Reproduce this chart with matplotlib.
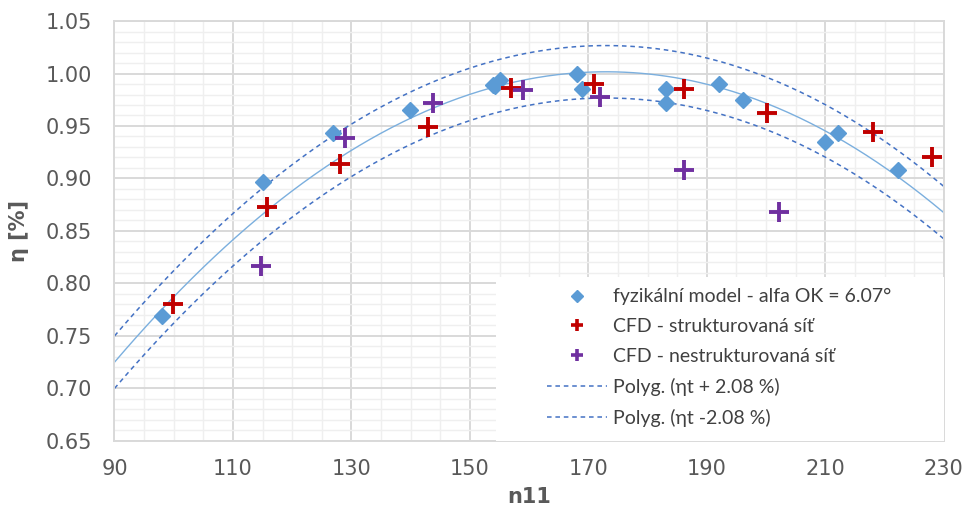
import numpy as np
import matplotlib.pyplot as plt
from matplotlib.lines import Line2D
from matplotlib.patches import Rectangle
from matplotlib.ticker import MultipleLocator, FixedLocator, FormatStrFormatter

plt.rcParams['font.family'] = ['DejaVu Sans']

# fyzikální model (alfa OK = 6.07°)
model_n11 = [98.0, 115.0, 126.9, 139.9, 153.9, 154.2, 155.1, 168.0, 169.0,
             183.1, 183.1, 192.0, 196.1, 210.0, 212.2, 222.3]
model_eta = [0.769, 0.897, 0.943, 0.965, 0.989, 0.988, 0.994, 1.000, 0.985,
             0.985, 0.972, 0.990, 0.975, 0.935, 0.943, 0.908]

# CFD - strukturovaná síť
cfd_s_n11 = [99.9, 115.8, 128.1, 143.0, 157.0, 171.0, 186.1, 200.1, 218.1, 228.0]
cfd_s_eta = [0.780, 0.873, 0.914, 0.949, 0.986, 0.990, 0.985, 0.962, 0.944, 0.920]

# CFD - nestrukturovaná síť
cfd_n_n11 = [114.8, 128.9, 143.8, 159.0, 171.9, 186.1, 202.2]
cfd_n_eta = [0.817, 0.939, 0.972, 0.984, 0.978, 0.908, 0.868]

# ηt trend values
trend_n11 = [90, 110, 130, 150, 170, 190, 210, 230]
trend_eta = [0.724, 0.844, 0.925, 0.979, 1.002, 0.992, 0.943, 0.868]

band = 0.025  # half-width of the tolerance band

labels = ["fyzikální model - alfa OK = 6.07°",
          "CFD - strukturovaná síť",
          "CFD - nestrukturovaná síť",
          "Polyg. (ηt + 2.08 %)",
          "Polyg. (ηt -2.08 %)"]

x_ticks = [90, 110, 130, 150, 170, 190, 210, 230]

coef = np.polyfit(trend_n11, trend_eta, 3)
xs = np.linspace(90, 230, 300)
fit = np.polyval(coef, xs)

fig = plt.figure(figsize=(9.7, 5.14), dpi=100)
ax = fig.add_axes([0.118, 0.1426, 0.855, 0.8164])

dash = (0, (3, 2.5))
ax.plot(xs, fit, color="#7BAFDE", lw=1.0, zorder=2)
ax.plot(xs, fit + band, color="#4472C4", lw=1.1, ls=dash, zorder=2)
ax.plot(xs, fit - band, color="#4472C4", lw=1.1, ls=dash, zorder=2)

ax.plot(model_n11, model_eta, ls="none", marker="D", ms=8, color="#5B9BD5", zorder=3)
ax.plot(cfd_s_n11, cfd_s_eta, ls="none", marker="+", ms=14.5, mew=2.8, color="#C00000", zorder=4)
ax.plot(cfd_n_n11, cfd_n_eta, ls="none", marker="+", ms=14.5, mew=2.8, color="#7030A0", zorder=4)

ax.set_xlim(90, 230)
ax.set_ylim(0.65, 1.05)
ax.xaxis.set_major_locator(FixedLocator(x_ticks))
ax.xaxis.set_minor_locator(MultipleLocator(5))
ax.yaxis.set_major_locator(MultipleLocator(0.05))
ax.yaxis.set_minor_locator(MultipleLocator(0.01))
ax.yaxis.set_major_formatter(FormatStrFormatter("%.2f"))
ax.grid(which="major", color="#D9D9D9", lw=1.4)
ax.grid(which="minor", color="#EFEFEF", lw=1.0)
ax.set_axisbelow(True)
ax.tick_params(which="both", length=0)
ax.tick_params(axis="x", labelsize=15, labelcolor="#595959", pad=13)
ax.tick_params(axis="y", labelsize=15, labelcolor="#595959", pad=16)
for s in ax.spines.values():
    s.set_color("#D9D9D9")
    s.set_linewidth(1.4)

ax.set_xlabel("n11", fontsize=15, fontweight="bold", color="#595959", labelpad=6)
ax.set_ylabel("η [%]", fontsize=15, fontweight="bold", color="#595959", labelpad=12)

# white legend area covering the grid
ax.add_patch(Rectangle((0.46, 0.0), 0.54, 0.39, transform=ax.transAxes,
                       facecolor="white", edgecolor="none", zorder=5))

# smaller markers in the legend than on the plot
handles = [
    Line2D([], [], ls="none", marker="D", ms=6.5, color="#5B9BD5"),
    Line2D([], [], ls="none", marker="+", ms=9, mew=2.6, color="#C00000"),
    Line2D([], [], ls="none", marker="+", ms=9, mew=2.6, color="#7030A0"),
    Line2D([], [], color="#4472C4", lw=1.1, ls=dash),
    Line2D([], [], color="#4472C4", lw=1.1, ls=dash),
]
leg = ax.legend(handles, labels,
                loc="upper left", bbox_to_anchor=(0.521, 0.363),
                prop={"family": "Lato", "size": 14}, frameon=False,
                handlelength=3.1, handletextpad=0.3,
                borderpad=0.0, labelspacing=0.66, borderaxespad=0.0)
leg.set_zorder(6)
for t in leg.get_texts():
    t.set_color("#404040")

fig.savefig("out.png", dpi=100)
